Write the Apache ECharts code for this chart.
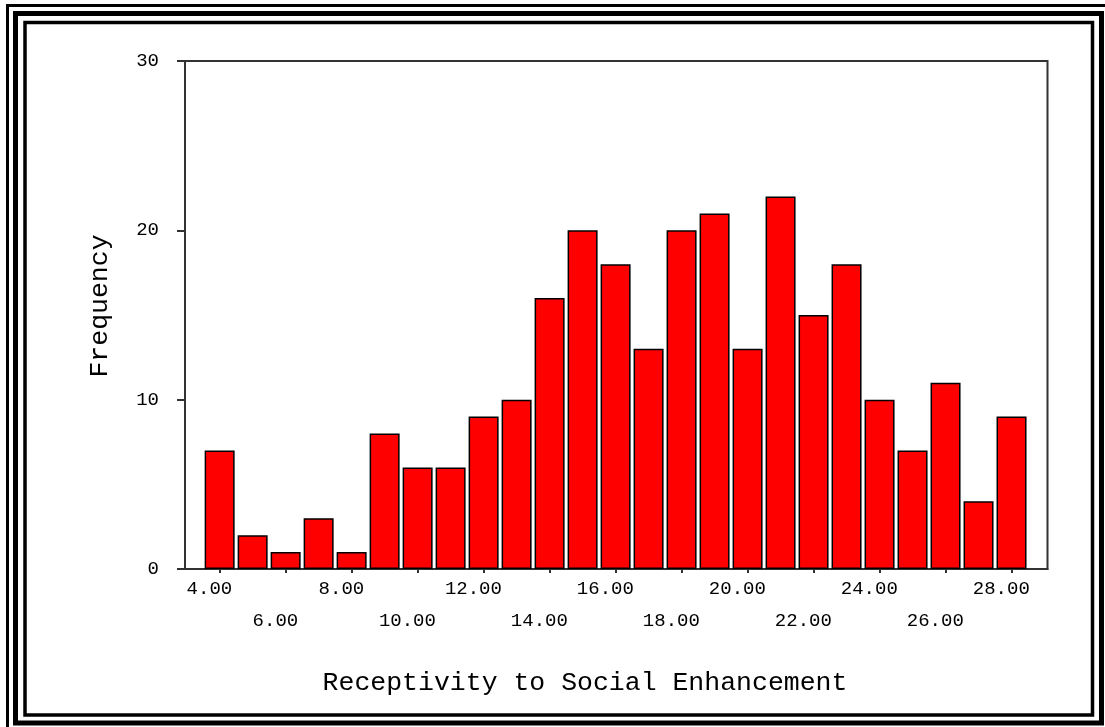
<!DOCTYPE html>
<html>
<head>
<meta charset="utf-8">
<title>Receptivity to Social Enhancement</title>
<script src="https://cdn.jsdelivr.net/npm/echarts@6/dist/echarts.min.js"></script>
<style>
  html, body { margin: 0; padding: 0; background: #fff; }
  #chart { width: 1105px; height: 727px; }
</style>
</head>
<body>
<div id="chart"></div>
<script>
// Score bins (bar centres) and how many respondents fell in each
const scoreBins = [4, 5, 6, 7, 8, 9, 10, 11, 12, 13, 14, 15, 16, 17, 18, 19, 20, 21, 22, 23, 24, 25, 26, 27, 28];
const frequencies = [7, 2, 1, 3, 1, 8, 6, 6, 9, 10, 16, 20, 18, 13, 20, 21, 13, 22, 15, 18, 10, 7, 11, 4, 9];

// Axis ticks and their labels (x labels alternate between two rows)
const xTickValues = [4, 6, 8, 10, 12, 14, 16, 18, 20, 22, 24, 26, 28];
const xTickLabels = ['4.00', '6.00', '8.00', '10.00', '12.00', '14.00', '16.00', '18.00', '20.00', '22.00', '24.00', '26.00', '28.00'];
const yTickValues = [0, 10, 20, 30];

const xTitle = 'Receptivity to Social Enhancement';
const yTitle = 'Frequency';

const mono = '"Liberation Mono", "DejaVu Sans Mono", monospace';
const axisColor = '#333';
const textColor = '#000';

// x range of the plot; the label axis is nudged a third of a unit so the
// tick labels sit slightly left of their ticks
const xMin = 2.95, xMax = 29.09, labelShift = 0.31;

const chart = echarts.init(document.getElementById('chart'), null, { renderer: 'canvas' });

chart.setOption({
  animation: false,
  backgroundColor: '#fff',
  grid: {
    left: 185, right: 57.5, top: 61, bottom: 158,
    show: true, borderColor: axisColor, borderWidth: 2, backgroundColor: 'transparent'
  },
  xAxis: [{
    type: 'value',
    min: xMin,
    max: xMax,
    axisLine: { show: true, onZero: false, lineStyle: { color: axisColor, width: 2 } },
    axisTick: { show: true, customValues: xTickValues, length: 4, lineStyle: { color: axisColor, width: 2 } },
    axisLabel: { show: false },
    splitLine: { show: false }
  }, {
    type: 'value',
    position: 'bottom',
    min: xMin + labelShift,
    max: xMax + labelShift,
    axisLine: { show: false },
    axisTick: { show: false },
    axisLabel: {
      show: true,
      customValues: xTickValues,
      showMinLabel: true,
      showMaxLabel: true,
      hideOverlap: false,
      margin: 4,
      fontFamily: mono,
      fontSize: 19,
      color: textColor,
      lineHeight: 32,
      formatter: function (v) {
        const i = xTickValues.indexOf(v);
        const text = xTickLabels[i];
        return i % 2 === 1 ? '\n' + text : text;
      }
    },
    splitLine: { show: false }
  }],
  yAxis: {
    type: 'value',
    min: 0,
    max: 30,
    interval: 10,
    axisLine: { show: true, lineStyle: { color: axisColor, width: 2 } },
    axisTick: { show: true, length: 8, lineStyle: { color: axisColor, width: 2 } },
    axisLabel: {
      margin: 26,
      fontFamily: mono,
      fontSize: 19,
      color: textColor,
      formatter: function (v) { return yTickValues.indexOf(v) >= 0 ? String(v) : ''; }
    },
    splitLine: { show: false }
  },
  series: [{
    type: 'bar',
    xAxisIndex: 0,
    data: scoreBins.map((b, i) => [b, frequencies[i]]),
    barWidth: 30,
    itemStyle: { color: '#ff0000', borderColor: '#000', borderWidth: 1.5 }
  }],
  graphic: [
    // triple frame around the whole chart
    { type: 'rect', silent: true, shape: { x: 7.5, y: 5.5, width: 1102, height: 726 },
      style: { fill: 'none', stroke: '#000', lineWidth: 3 } },
    { type: 'rect', silent: true, shape: { x: 15.5, y: 13.5, width: 1086, height: 709.5 },
      style: { fill: 'none', stroke: '#000', lineWidth: 5 } },
    { type: 'rect', silent: true, shape: { x: 25, y: 22.5, width: 1067.5, height: 692.5 },
      style: { fill: 'none', stroke: '#000', lineWidth: 3.5 } },
    // axis titles
    { type: 'text', x: 585, y: 683, silent: true,
      style: { text: xTitle, font: '26.5px ' + mono, fill: textColor, align: 'center', verticalAlign: 'middle' } },
    { type: 'text', x: 100, y: 306, rotation: Math.PI / 2, silent: true,
      style: { text: yTitle, font: '26.5px ' + mono, fill: textColor, align: 'center', verticalAlign: 'middle' } }
  ]
});
</script>
</body>
</html>
